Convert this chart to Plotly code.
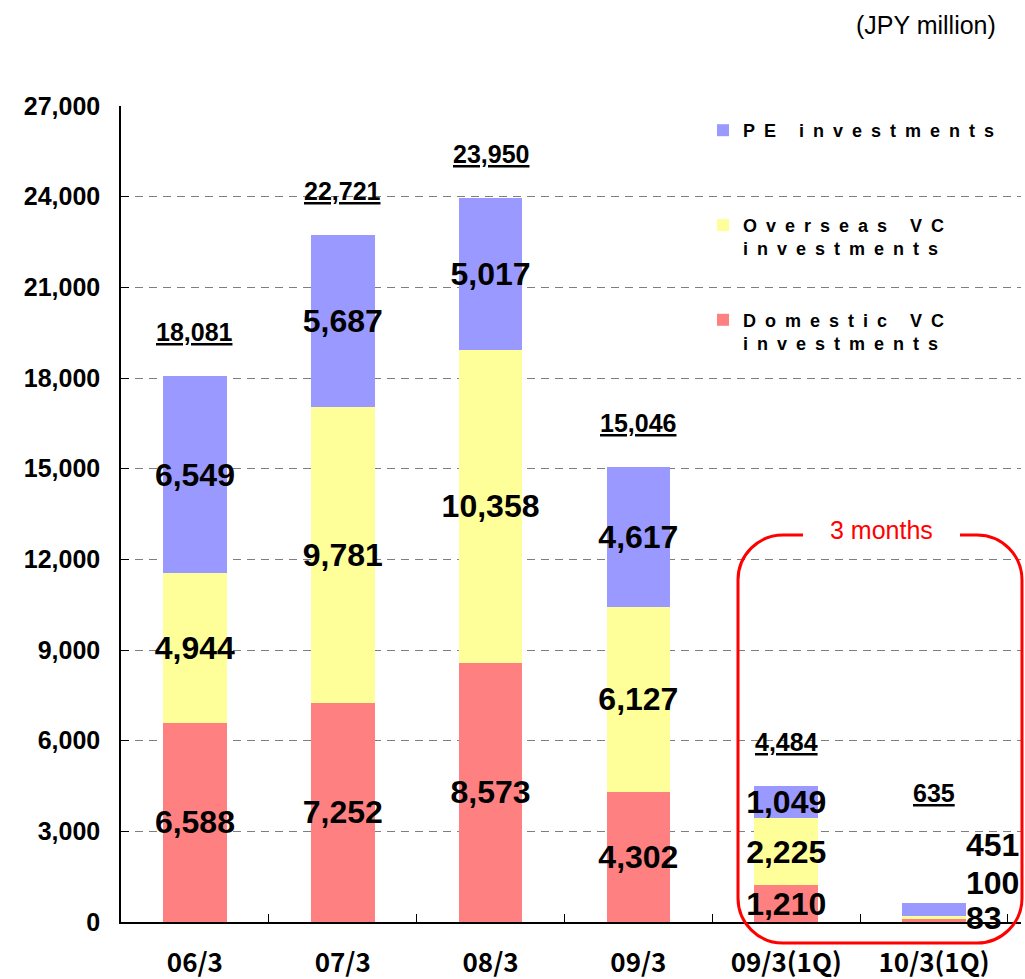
import plotly.graph_objects as go

# Investment amounts by fiscal period (JPY million)
periods = ["06/3", "07/3", "08/3", "09/3", "09/3(1Q)", "10/3(1Q)"]
domestic_vc = [6588, 7252, 8573, 4302, 1210, 83]
overseas_vc = [4944, 9781, 10358, 6127, 2225, 100]
pe_invest = [6549, 5687, 5017, 4617, 1049, 451]
totals = [18081, 22721, 23950, 15046, 4484, 635]
y_ticks = [0, 3000, 6000, 9000, 12000, 15000, 18000, 21000, 24000, 27000]

FIG_W, FIG_H = 1025, 979
M_L, M_R, M_T, M_B = 121, 4, 106, 57
PW = FIG_W - M_L - M_R
PH = FIG_H - M_T - M_B


def fx(px):
    return (px - M_L) / PW


def fy(py):
    return (M_T + PH - py) / PH


NUM_FONT = dict(family="Liberation Sans, Arial, sans-serif", size=32, color="black", weight=700)
LEG_FONT = dict(family="Liberation Sans, Arial, sans-serif", size=18, color="black", weight=700)


def spaced(line):
    return "<span style='letter-spacing:9px'>" + line + "</span>"


def inside_labels(vals):
    # the last period's bar is too thin: its values are written beside it
    return [f"{v:,}" for v in vals[:-1]] + [""]


series = [
    ("Domestic VC investments", domestic_vc, "#FF8080",
     spaced("Domestic VC") + "<br>" + spaced("investments"), "g3", 3),
    ("Overseas VC investments", overseas_vc, "#FFFF99",
     spaced("Overseas VC") + "<br>" + spaced("investments"), "g2", 2),
    ("PE investments", pe_invest, "#9999FF",
     spaced("PE investments") + "<br> ", "g1", 1),
]

fig = go.Figure()
for name, vals, color, legname, grp, rank in series:
    fig.add_trace(go.Bar(
        x=periods, y=vals, name=legname, legendgroup=grp, legendrank=rank,
        marker=dict(color=color, line=dict(width=0)),
        text=inside_labels(vals), textposition="inside",
        insidetextanchor="middle", constraintext="none", textangle=0,
        textfont=NUM_FONT, hoverinfo="skip",
    ))

annotations = []
# totals above each stack
total_shift = [44, 44, 44, 44, 44, 110]
for p, t, s in zip(periods, totals, total_shift):
    annotations.append(dict(
        x=p, y=t, xref="x", yref="y", yshift=s,
        text=f"<u><b>{t:,}</b></u>", showarrow=False,
        font=dict(family="Liberation Sans, Arial, sans-serif", size=25, color="black"),
    ))

# values of the last (thin) stack, written to its right
side_vals = [pe_invest[-1], overseas_vc[-1], domestic_vc[-1]]
side_shift = [77, 39, 4]
for v, s in zip(side_vals, side_shift):
    annotations.append(dict(
        x=periods[-1], y=0, xref="x", yref="y", xshift=30, yshift=s,
        xanchor="left", yanchor="middle", text=f"{v:,}", showarrow=False,
        font=NUM_FONT,
    ))

annotations.append(dict(
    x=fx(998), y=fy(25), xref="paper", yref="paper", xanchor="right",
    yanchor="middle", text="(JPY million)", showarrow=False,
    font=dict(family="Liberation Sans, Arial, sans-serif", size=25, color="black"),
))
annotations.append(dict(
    x=fx(881), y=fy(530), xref="paper", yref="paper", xanchor="center",
    yanchor="middle", text="3 months", showarrow=False,
    font=dict(family="Liberation Sans, Arial, sans-serif", size=25, color="#FF0000"),
))

# rounded frame around the quarterly periods, open at the top for its caption
left, right, top, bottom, r = 738, 1022, 535, 943, 45
gap_l, gap_r = 803, 960
k = 0.5523 * r


def P(x, y):
    return f"{fx(x):.5f},{fy(y):.5f}"


path = (
    f"M {P(gap_l, top)} L {P(left + r, top)} "
    f"C {P(left + r - k, top)} {P(left, top + r - k)} {P(left, top + r)} "
    f"L {P(left, bottom - r)} "
    f"C {P(left, bottom - r + k)} {P(left + r - k, bottom)} {P(left + r, bottom)} "
    f"L {P(right - r, bottom)} "
    f"C {P(right - r + k, bottom)} {P(right, bottom - r + k)} {P(right, bottom - r)} "
    f"L {P(right, top + r)} "
    f"C {P(right, top + r - k)} {P(right - r + k, top)} {P(right - r, top)} "
    f"L {P(gap_r, top)}"
)

shapes = [
    # blank panel behind the legend
    dict(type="rect", xref="paper", yref="paper", x0=fx(698), x1=fx(1030),
         y0=fy(364), y1=fy(98), fillcolor="white", line=dict(width=0), layer="between"),
    dict(type="path", xref="paper", yref="paper", path=path,
         line=dict(color="#FF0000", width=3), layer="above"),
]

fig.update_layout(
    width=FIG_W, height=FIG_H,
    margin=dict(l=M_L, r=M_R, t=M_T, b=M_B, pad=0, autoexpand=False),
    paper_bgcolor="white", plot_bgcolor="white",
    barmode="stack", bargap=0.57,
    showlegend=True,
    legend=dict(
        x=fx(703), y=fy(112), xanchor="left", yanchor="top",
        traceorder="grouped", tracegroupgap=45, valign="top",
        bgcolor="rgba(0,0,0,0)", font=LEG_FONT, itemclick=False,
    ),
    annotations=annotations,
    shapes=shapes,
    font=dict(family="Liberation Sans, Arial, sans-serif", color="black"),
)

fig.update_xaxes(
    type="category", categoryorder="array", categoryarray=periods,
    showline=True, linecolor="black", linewidth=1.5,
    ticks="inside", tickson="boundaries", ticklen=8, tickcolor="black",
    ticklabelstandoff=17, showgrid=False, automargin=False,
    tickfont=dict(family="Noto Sans CJK JP, sans-serif", size=26, color="black", weight=700),
)
fig.update_yaxes(
    range=[0, 27000], tickvals=y_ticks, tickformat=",d",
    showline=True, linecolor="black", linewidth=1.5,
    ticks="inside", ticklen=8, tickcolor="black", ticklabelstandoff=14,
    showgrid=True, gridcolor="#7f7f7f", gridwidth=1, griddash="8px,6px",
    zeroline=False, automargin=False,
    tickfont=dict(family="Liberation Sans, Arial, sans-serif", size=25, color="black", weight=700),
)

fig.write_html("out.html", config={"displayModeBar": False})
